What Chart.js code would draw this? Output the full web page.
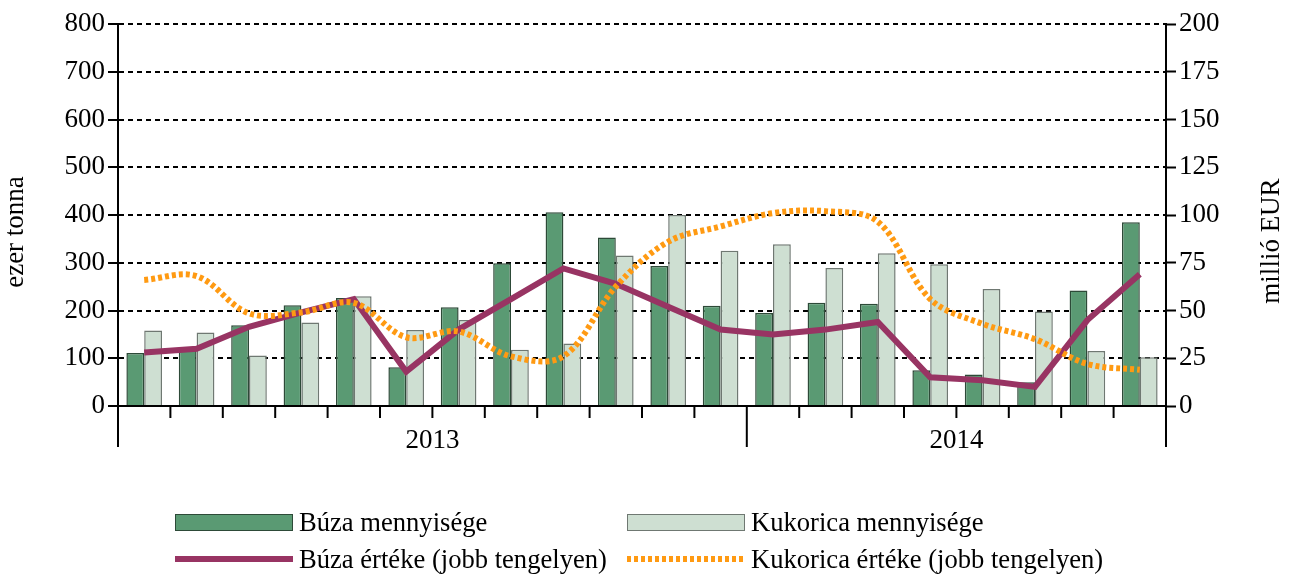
<!DOCTYPE html>
<html lang="hu">
<head>
    <meta charset="UTF-8">
    <title>Búza és kukorica</title>
    <script src="https://cdn.jsdelivr.net/npm/chart.js"></script>
    <style>
        body { margin: 0; background: #fff; font-family: 'Liberation Serif', serif; }
        #wrap { position: relative; width: 1294px; height: 576px; }
        #chart { position: absolute; left: 0; top: 0; }
        .legend { position: absolute; left: 0; top: 0; font-size: 26.6px; color: #000; }
        .item { position: absolute; display: flex; align-items: center; white-space: nowrap; height: 30px; }
        .mark { width: 118px; margin-right: 6px; box-sizing: border-box; }
    </style>
</head>
<body>
<div id="wrap">
    <canvas id="chart" width="1294" height="576"></canvas>
    <div class="legend">
        <div class="item" style="left:175px; top:507px;">
            <div class="mark" style="height:17px; background:#5a9a73; border:1.5px solid #2d4a38;"></div>Búza mennyisége
        </div>
        <div class="item" style="left:627px; top:507px;">
            <div class="mark" style="height:17px; background:#cedfd2; border:1.5px solid #6f7872;"></div>Kukorica mennyisége
        </div>
        <div class="item" style="left:175px; top:544px;">
            <div class="mark" style="height:6px; background:#983463;"></div>Búza értéke (jobb tengelyen)
        </div>
        <div class="item" style="left:627px; top:544px;">
            <div class="mark" style="height:6px; background:repeating-linear-gradient(90deg, #ff9a12 0 4px, transparent 4px 7px);"></div>Kukorica értéke (jobb tengelyen)
        </div>
    </div>
</div>

<script>
    const months = ['2013-01','2013-02','2013-03','2013-04','2013-05','2013-06','2013-07','2013-08','2013-09','2013-10','2013-11','2013-12',
                    '2014-01','2014-02','2014-03','2014-04','2014-05','2014-06','2014-07','2014-08'];
    const years = ['2013', '2014'];
    const monthsPerYear = [12, 8];

    // ezer tonna (bal tengely)
    const buzaQty = [111, 120, 169, 211, 226, 81, 207, 299, 406, 353, 293, 210, 195, 216, 214, 75, 66, 50, 242, 385];
    const kukQty  = [158, 154, 106, 175, 230, 159, 180, 118, 131, 315, 400, 325, 339, 289, 320, 297, 245, 198, 115, 102];

    // millió EUR (jobb tengely)
    const buzaVal = [28, 30, 41.5, 49, 56, 18, 40, 56, 72, 64, 52, 40, 37.5, 40, 44, 15, 13.5, 10, 45, 69];
    const kukVal  = [66, 68, 48.5, 49, 54, 36, 39, 26, 26, 62.5, 86, 94, 101, 102, 96.5, 56, 43, 35, 22, 19];

    const FONT = { family: "'Liberation Serif', serif", size: 27 };

    // hónap-osztások, évcímkék és tengelycímek
    const decor = {
        id: 'decor',
        afterDraw(chart) {
            const ctx = chart.ctx;
            const x = chart.scales.x;
            const y0 = chart.chartArea.bottom;
            ctx.save();
            ctx.strokeStyle = '#000';
            ctx.lineWidth = 2;
            const yearEdges = [0];
            monthsPerYear.reduce((s, c) => { yearEdges.push(s + c); return s + c; }, 0);
            for (let i = 0; i <= months.length; i++) {
                const px = x.getPixelForValue(i - 0.5);
                const long = yearEdges.includes(i);
                ctx.beginPath();
                ctx.moveTo(px, y0);
                ctx.lineTo(px, y0 + (long ? 41 : 12));
                ctx.stroke();
            }
            ctx.fillStyle = '#000';
            ctx.font = `${FONT.size}px ${FONT.family}`;
            ctx.textAlign = 'center';
            ctx.textBaseline = 'middle';
            years.forEach((yr, k) => {
                const a = x.getPixelForValue(yearEdges[k] - 0.5);
                const b = x.getPixelForValue(yearEdges[k + 1] - 0.5);
                ctx.fillText(yr, (a + b) / 2, y0 + 35);
            });
            // tengelycímek, mindkettő alulról felfelé
            [['ezer tonna', 16, 232], ['millió EUR', 1272, 241]].forEach(([t, tx, ty]) => {
                ctx.save();
                ctx.translate(tx, ty);
                ctx.rotate(-Math.PI / 2);
                ctx.fillText(t, 0, 0);
                ctx.restore();
            });
            ctx.restore();
        }
    };

    new Chart(document.getElementById('chart'), {
        data: {
            labels: months,
            datasets: [
                {
                    type: 'line', label: 'Kukorica értéke (jobb tengelyen)', data: kukVal, yAxisID: 'y1',
                    borderColor: '#ff9a12', borderWidth: 6, borderDash: [4, 3], borderCapStyle: 'butt',
                    pointRadius: 0, tension: 0.35, fill: false, order: 0
                },
                {
                    type: 'line', label: 'Búza értéke (jobb tengelyen)', data: buzaVal, yAxisID: 'y1',
                    borderColor: '#983463', borderWidth: 6, pointRadius: 0, tension: 0, fill: false, order: 1
                },
                {
                    type: 'bar', label: 'Búza mennyisége', data: buzaQty, yAxisID: 'y',
                    backgroundColor: '#5a9a73', borderColor: '#2d4a38', borderWidth: 1.5,
                    categoryPercentage: 0.68, barPercentage: 1.0, order: 2
                },
                {
                    type: 'bar', label: 'Kukorica mennyisége', data: kukQty, yAxisID: 'y',
                    backgroundColor: '#cedfd2', borderColor: '#6f7872', borderWidth: 1.5,
                    categoryPercentage: 0.68, barPercentage: 1.0, order: 2
                }
            ]
        },
        options: {
            responsive: false,
            animation: false,
            layout: { padding: { top: 24, left: 0, right: 0, bottom: 0 } },
            plugins: { legend: { display: false }, tooltip: { enabled: false } },
            scales: {
                x: {
                    offset: true,
                    grid: { display: false },
                    border: { display: true, color: '#000', width: 2 },
                    ticks: { display: false },
                    afterFit: s => { s.height = 170; }
                },
                y: {
                    position: 'left', min: 0, max: 800,
                    ticks: { stepSize: 100, color: '#000', font: FONT, padding: 3 },
                    grid: { color: '#000', lineWidth: 2, tickLength: 10, tickWidth: 2, tickColor: '#000', tickBorderDash: [] },
                    border: { display: true, color: '#000', width: 2, dash: [5, 4] },
                    afterFit: s => { s.width = 118; }
                },
                y1: {
                    position: 'right', min: 0, max: 200,
                    ticks: { stepSize: 25, color: '#000', font: FONT, padding: 3 },
                    grid: { drawOnChartArea: false, tickLength: 10, tickWidth: 2, tickColor: '#000' },
                    border: { display: true, color: '#000', width: 2 },
                    afterFit: s => { s.width = 128; }
                }
            }
        },
        plugins: [decor]
    });
</script>
</body>
</html>
